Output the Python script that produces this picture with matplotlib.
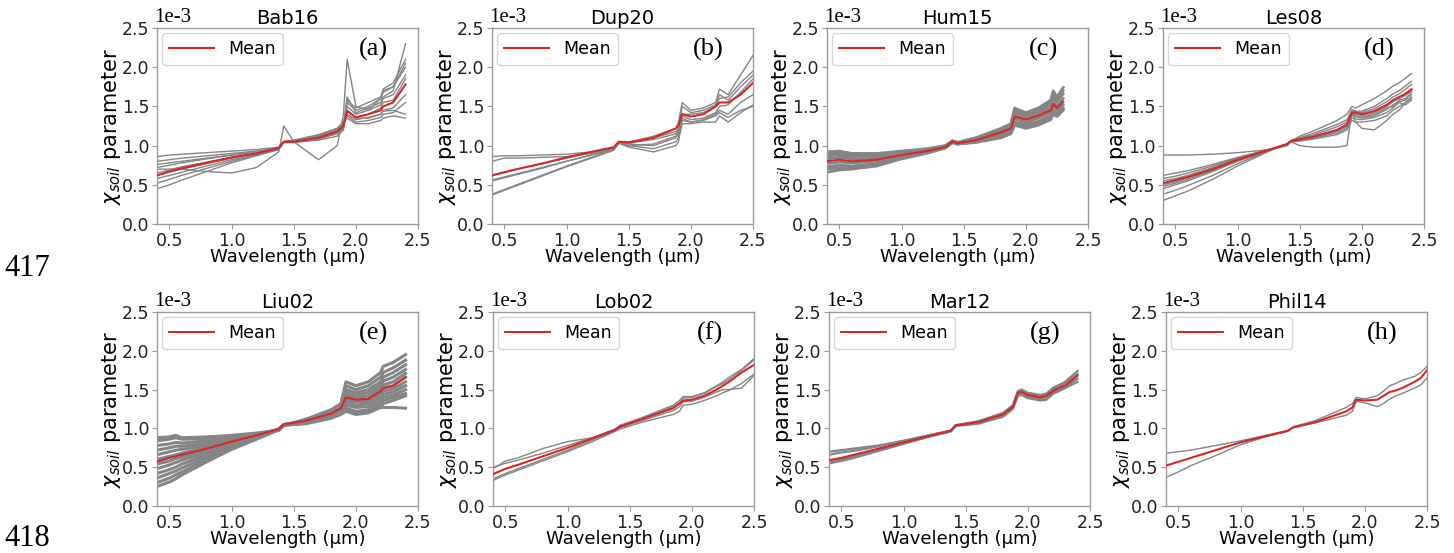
import matplotlib
matplotlib.use("Agg")
import matplotlib.pyplot as plt

# ---------------- data (values in units of 1e-3) ----------------
titles = ["Bab16", "Dup20", "Hum15", "Les08", "Liu02", "Lob02", "Mar12", "Phil14"]
tags = ["(a)", "(b)", "(c)", "(d)", "(e)", "(f)", "(g)", "(h)"]

wl_a = [0.40, 0.50, 0.60, 0.80, 1.00, 1.20, 1.38, 1.42, 1.50, 1.70, 1.85, 1.90, 1.93, 2.00, 2.10, 2.20, 2.22, 2.30, 2.40]
mean_a = [0.62, 0.67, 0.71, 0.78, 0.85, 0.90, 0.97, 1.05, 1.05, 1.10, 1.18, 1.25, 1.44, 1.36, 1.40, 1.45, 1.50, 1.55, 1.78]
gray_a = [
    [0.86, 0.88, 0.89, 0.91, 0.93, 0.95, 0.98, 1.04, 1.04, 1.07, 1.12, 1.20, 1.55, 1.45, 1.50, 1.60, 1.68, 1.75, 2.05],
    [0.80, 0.82, 0.84, 0.87, 0.90, 0.93, 0.97, 1.05, 1.05, 1.09, 1.15, 1.22, 1.50, 1.40, 1.45, 1.52, 1.60, 1.65, 1.90],
    [0.72, 0.75, 0.78, 0.83, 0.88, 0.92, 0.97, 1.05, 1.05, 1.10, 1.18, 1.26, 1.62, 1.42, 1.48, 1.55, 1.62, 1.70, 2.30],
    [0.65, 0.69, 0.73, 0.79, 0.85, 0.90, 0.96, 1.04, 1.04, 1.10, 1.19, 1.26, 1.40, 1.33, 1.36, 1.40, 1.45, 1.48, 1.65],
    [0.58, 0.62, 0.66, 0.74, 0.82, 0.88, 0.96, 1.05, 1.06, 1.12, 1.20, 1.28, 1.38, 1.30, 1.32, 1.36, 1.40, 1.42, 1.55],
    [0.52, 0.57, 0.62, 0.71, 0.80, 0.88, 0.95, 1.05, 1.06, 1.13, 1.22, 1.30, 1.45, 1.35, 1.35, 1.40, 1.44, 1.45, 1.40],
    [0.45, 0.50, 0.56, 0.67, 0.78, 0.87, 0.95, 1.05, 1.07, 1.14, 1.22, 1.30, 1.35, 1.28, 1.28, 1.32, 1.35, 1.38, 1.35],
    [0.70, 0.70, 0.70, 0.67, 0.65, 0.72, 0.92, 1.25, 1.05, 0.82, 1.00, 1.40, 2.10, 1.50, 1.45, 1.60, 1.70, 1.75, 2.00],
    [0.76, 0.78, 0.80, 0.84, 0.88, 0.92, 0.97, 1.05, 1.05, 1.08, 1.16, 1.24, 1.58, 1.48, 1.55, 1.62, 1.72, 1.80, 2.10],
    [0.62, 0.66, 0.70, 0.77, 0.84, 0.90, 0.96, 1.04, 1.04, 1.10, 1.18, 1.25, 1.45, 1.36, 1.40, 1.48, 1.55, 1.58, 1.85],
]

wl_b = [0.40, 0.50, 0.60, 0.80, 1.00, 1.20, 1.38, 1.42, 1.50, 1.70, 1.88, 1.90, 1.93, 2.00, 2.10, 2.20, 2.23, 2.30, 2.40, 2.50]
mean_b = [0.62, 0.66, 0.70, 0.77, 0.85, 0.92, 0.98, 1.05, 1.04, 1.10, 1.22, 1.26, 1.40, 1.37, 1.40, 1.50, 1.55, 1.55, 1.65, 1.80]
gray_b = [
    [0.86, 0.87, 0.87, 0.88, 0.89, 0.92, 0.97, 1.04, 1.00, 0.96, 1.05, 1.10, 1.35, 1.30, 1.33, 1.40, 1.45, 1.40, 1.55, 1.65],
    [0.80, 0.84, 0.84, 0.85, 0.86, 0.90, 0.96, 1.03, 0.98, 0.92, 1.00, 1.05, 1.28, 1.28, 1.30, 1.30, 1.38, 1.30, 1.42, 1.52],
    [0.56, 0.60, 0.64, 0.72, 0.80, 0.88, 0.95, 1.03, 1.04, 1.12, 1.22, 1.30, 1.55, 1.45, 1.48, 1.55, 1.72, 1.65, 1.90, 2.15],
    [0.55, 0.59, 0.63, 0.71, 0.80, 0.88, 0.96, 1.04, 1.05, 1.10, 1.18, 1.22, 1.40, 1.40, 1.42, 1.50, 1.60, 1.62, 1.80, 1.95],
    [0.38, 0.44, 0.50, 0.62, 0.74, 0.85, 0.95, 1.04, 1.00, 1.02, 1.12, 1.18, 1.38, 1.33, 1.35, 1.42, 1.50, 1.52, 1.68, 1.85],
    [0.37, 0.43, 0.49, 0.61, 0.73, 0.84, 0.94, 1.03, 1.03, 1.08, 1.15, 1.20, 1.50, 1.42, 1.45, 1.52, 1.65, 1.58, 1.75, 1.90],
    [0.62, 0.66, 0.70, 0.77, 0.84, 0.91, 0.97, 1.04, 1.02, 1.00, 1.10, 1.15, 1.32, 1.30, 1.32, 1.38, 1.42, 1.36, 1.45, 1.50],
]

wl_c = [0.40, 0.50, 0.60, 0.80, 1.00, 1.20, 1.35, 1.41, 1.45, 1.60, 1.80, 1.88, 1.91, 2.00, 2.10, 2.20, 2.22, 2.25, 2.30]
mean_c = [0.80, 0.82, 0.80, 0.82, 0.88, 0.93, 0.98, 1.05, 1.03, 1.07, 1.17, 1.22, 1.37, 1.33, 1.38, 1.45, 1.53, 1.48, 1.56]
gray_c = [
    [0.92, 0.93, 0.90, 0.90, 0.93, 0.96, 1.00, 1.06, 1.04, 1.10, 1.22, 1.28, 1.48, 1.42, 1.48, 1.58, 1.70, 1.62, 1.74],
    [0.90, 0.91, 0.88, 0.88, 0.92, 0.95, 0.99, 1.06, 1.04, 1.10, 1.21, 1.27, 1.46, 1.40, 1.46, 1.55, 1.66, 1.59, 1.70],
    [0.87, 0.88, 0.86, 0.87, 0.91, 0.95, 0.99, 1.06, 1.04, 1.09, 1.20, 1.25, 1.43, 1.38, 1.43, 1.52, 1.62, 1.56, 1.66],
    [0.83, 0.85, 0.83, 0.84, 0.89, 0.94, 0.99, 1.05, 1.03, 1.08, 1.18, 1.23, 1.40, 1.35, 1.40, 1.48, 1.57, 1.51, 1.60],
    [0.77, 0.79, 0.78, 0.80, 0.87, 0.92, 0.98, 1.05, 1.03, 1.06, 1.15, 1.20, 1.34, 1.30, 1.35, 1.42, 1.50, 1.45, 1.52],
    [0.73, 0.75, 0.74, 0.77, 0.85, 0.91, 0.97, 1.04, 1.02, 1.05, 1.13, 1.18, 1.30, 1.27, 1.31, 1.38, 1.45, 1.41, 1.48],
    [0.70, 0.72, 0.72, 0.76, 0.84, 0.91, 0.97, 1.04, 1.02, 1.05, 1.12, 1.17, 1.28, 1.25, 1.29, 1.36, 1.43, 1.39, 1.47],
    [0.66, 0.69, 0.70, 0.74, 0.83, 0.90, 0.97, 1.04, 1.02, 1.04, 1.10, 1.15, 1.26, 1.22, 1.26, 1.33, 1.40, 1.37, 1.45],
]

wl_d = [0.40, 0.50, 0.60, 0.80, 1.00, 1.20, 1.30, 1.40, 1.43, 1.50, 1.60, 1.80, 1.88, 1.92, 1.95, 2.00, 2.10, 2.20, 2.25, 2.30, 2.35, 2.40]
mean_d = [0.52, 0.56, 0.60, 0.70, 0.82, 0.92, 0.97, 1.02, 1.06, 1.08, 1.11, 1.20, 1.27, 1.42, 1.42, 1.40, 1.44, 1.52, 1.58, 1.62, 1.66, 1.72]
gray_d = [
    [0.88, 0.88, 0.88, 0.89, 0.91, 0.94, 0.96, 1.00, 1.05, 1.00, 0.98, 0.98, 1.00, 1.45, 1.30, 1.22, 1.20, 1.32, 1.40, 1.45, 1.55, 1.60],
    [0.62, 0.65, 0.68, 0.76, 0.85, 0.93, 0.97, 1.02, 1.06, 1.12, 1.18, 1.32, 1.40, 1.50, 1.48, 1.52, 1.60, 1.70, 1.76, 1.80, 1.86, 1.92],
    [0.58, 0.61, 0.65, 0.74, 0.84, 0.93, 0.97, 1.02, 1.06, 1.10, 1.15, 1.27, 1.33, 1.46, 1.44, 1.44, 1.50, 1.60, 1.66, 1.70, 1.76, 1.82],
    [0.55, 0.58, 0.62, 0.72, 0.83, 0.92, 0.97, 1.02, 1.06, 1.09, 1.13, 1.24, 1.30, 1.44, 1.43, 1.42, 1.47, 1.56, 1.62, 1.66, 1.72, 1.78],
    [0.50, 0.54, 0.59, 0.69, 0.81, 0.91, 0.97, 1.02, 1.06, 1.08, 1.11, 1.20, 1.26, 1.40, 1.40, 1.38, 1.42, 1.50, 1.56, 1.60, 1.64, 1.70],
    [0.48, 0.52, 0.57, 0.68, 0.81, 0.91, 0.97, 1.02, 1.05, 1.08, 1.10, 1.19, 1.25, 1.42, 1.38, 1.36, 1.40, 1.48, 1.50, 1.58, 1.60, 1.68],
    [0.45, 0.50, 0.55, 0.67, 0.80, 0.91, 0.97, 1.02, 1.05, 1.07, 1.10, 1.18, 1.24, 1.38, 1.37, 1.35, 1.38, 1.46, 1.52, 1.56, 1.58, 1.65],
    [0.38, 0.43, 0.49, 0.62, 0.77, 0.90, 0.97, 1.02, 1.05, 1.06, 1.09, 1.16, 1.22, 1.35, 1.34, 1.33, 1.36, 1.42, 1.48, 1.55, 1.52, 1.58],
    [0.30, 0.36, 0.42, 0.57, 0.74, 0.89, 0.96, 1.02, 1.05, 1.06, 1.08, 1.14, 1.20, 1.32, 1.30, 1.30, 1.32, 1.38, 1.45, 1.50, 1.55, 1.62],
]

wl_e = [0.40, 0.50, 0.55, 0.60, 0.80, 1.00, 1.20, 1.38, 1.42, 1.60, 1.80, 1.88, 1.92, 2.00, 2.10, 2.20, 2.22, 2.30, 2.40]
mean_e = [0.57, 0.62, 0.64, 0.66, 0.74, 0.83, 0.91, 0.99, 1.05, 1.10, 1.19, 1.26, 1.40, 1.37, 1.38, 1.48, 1.52, 1.55, 1.66]
gray_e = [
    [0.88, 0.89, 0.91, 0.88, 0.89, 0.91, 0.94, 0.98, 1.04, 1.12, 1.24, 1.32, 1.60, 1.55, 1.60, 1.72, 1.80, 1.85, 1.95],
    [0.84, 0.86, 0.88, 0.86, 0.87, 0.90, 0.93, 0.98, 1.04, 1.11, 1.22, 1.30, 1.55, 1.50, 1.55, 1.66, 1.72, 1.78, 1.88],
    [0.78, 0.80, 0.82, 0.81, 0.84, 0.88, 0.92, 0.98, 1.04, 1.10, 1.21, 1.28, 1.50, 1.46, 1.50, 1.60, 1.66, 1.72, 1.82],
    [0.72, 0.75, 0.77, 0.77, 0.81, 0.87, 0.92, 0.98, 1.04, 1.10, 1.20, 1.27, 1.46, 1.43, 1.46, 1.56, 1.61, 1.66, 1.76],
    [0.66, 0.70, 0.72, 0.73, 0.78, 0.85, 0.91, 0.98, 1.04, 1.10, 1.20, 1.27, 1.43, 1.40, 1.42, 1.52, 1.56, 1.60, 1.71],
    [0.60, 0.64, 0.66, 0.68, 0.76, 0.84, 0.91, 0.99, 1.05, 1.10, 1.19, 1.26, 1.40, 1.37, 1.38, 1.48, 1.52, 1.55, 1.66],
    [0.54, 0.58, 0.61, 0.63, 0.72, 0.82, 0.90, 0.99, 1.05, 1.09, 1.18, 1.25, 1.37, 1.34, 1.35, 1.44, 1.48, 1.51, 1.60],
    [0.48, 0.53, 0.56, 0.59, 0.69, 0.80, 0.89, 0.99, 1.05, 1.09, 1.17, 1.24, 1.34, 1.30, 1.32, 1.40, 1.44, 1.47, 1.55],
    [0.42, 0.47, 0.50, 0.54, 0.66, 0.78, 0.89, 0.99, 1.05, 1.08, 1.16, 1.22, 1.30, 1.27, 1.28, 1.36, 1.40, 1.43, 1.50],
    [0.36, 0.42, 0.45, 0.49, 0.63, 0.77, 0.88, 0.99, 1.05, 1.08, 1.15, 1.21, 1.26, 1.22, 1.24, 1.32, 1.36, 1.40, 1.45],
    [0.30, 0.36, 0.40, 0.44, 0.60, 0.75, 0.87, 0.99, 1.04, 1.07, 1.14, 1.20, 1.24, 1.20, 1.22, 1.28, 1.32, 1.36, 1.42],
    [0.25, 0.31, 0.35, 0.40, 0.57, 0.73, 0.86, 0.98, 1.04, 1.06, 1.13, 1.18, 1.22, 1.18, 1.20, 1.27, 1.27, 1.27, 1.26],
]

wl_f = [0.40, 0.50, 0.60, 0.80, 1.00, 1.20, 1.38, 1.42, 1.60, 1.85, 1.90, 1.93, 2.00, 2.10, 2.20, 2.25, 2.30, 2.40, 2.50]
mean_f = [0.41, 0.48, 0.53, 0.64, 0.75, 0.87, 0.98, 1.02, 1.12, 1.26, 1.32, 1.36, 1.37, 1.42, 1.50, 1.55, 1.60, 1.72, 1.82]
gray_f = [
    [0.48, 0.58, 0.62, 0.74, 0.83, 0.88, 0.99, 1.04, 1.14, 1.30, 1.36, 1.41, 1.41, 1.46, 1.55, 1.60, 1.66, 1.76, 1.90],
    [0.50, 0.55, 0.59, 0.68, 0.78, 0.88, 0.98, 1.03, 1.13, 1.28, 1.33, 1.39, 1.40, 1.45, 1.54, 1.58, 1.63, 1.75, 1.88],
    [0.33, 0.40, 0.46, 0.58, 0.70, 0.83, 0.96, 0.99, 1.08, 1.18, 1.22, 1.30, 1.31, 1.36, 1.42, 1.46, 1.49, 1.58, 1.70],
    [0.35, 0.42, 0.48, 0.60, 0.72, 0.85, 0.97, 1.01, 1.10, 1.23, 1.28, 1.34, 1.35, 1.40, 1.47, 1.50, 1.50, 1.52, 1.68],
]

wl_g = [0.40, 0.50, 0.60, 0.80, 1.00, 1.20, 1.38, 1.42, 1.60, 1.80, 1.88, 1.92, 1.95, 2.00, 2.10, 2.15, 2.20, 2.25, 2.30, 2.40]
mean_g = [0.59, 0.62, 0.66, 0.74, 0.82, 0.90, 0.97, 1.04, 1.08, 1.18, 1.28, 1.46, 1.47, 1.43, 1.40, 1.42, 1.48, 1.52, 1.55, 1.68]
gray_g = [
    [0.70, 0.72, 0.74, 0.78, 0.84, 0.91, 0.97, 1.04, 1.09, 1.20, 1.30, 1.48, 1.50, 1.46, 1.43, 1.45, 1.52, 1.56, 1.60, 1.74],
    [0.66, 0.69, 0.71, 0.77, 0.84, 0.91, 0.97, 1.04, 1.09, 1.19, 1.29, 1.47, 1.49, 1.45, 1.42, 1.44, 1.50, 1.54, 1.58, 1.70],
    [0.56, 0.60, 0.64, 0.73, 0.81, 0.90, 0.97, 1.04, 1.07, 1.17, 1.27, 1.44, 1.45, 1.41, 1.38, 1.40, 1.46, 1.50, 1.53, 1.64],
    [0.55, 0.58, 0.62, 0.71, 0.80, 0.89, 0.96, 1.03, 1.06, 1.15, 1.25, 1.42, 1.43, 1.39, 1.36, 1.37, 1.44, 1.48, 1.52, 1.60],
]

wl_h = [0.40, 0.50, 0.60, 0.80, 1.00, 1.20, 1.38, 1.42, 1.60, 1.85, 1.90, 1.93, 2.00, 2.10, 2.15, 2.20, 2.25, 2.30, 2.40, 2.45, 2.50]
mean_h = [0.52, 0.57, 0.62, 0.72, 0.82, 0.90, 0.97, 1.01, 1.08, 1.22, 1.27, 1.37, 1.36, 1.37, 1.42, 1.47, 1.49, 1.52, 1.60, 1.65, 1.75]
gray_h = [
    [0.68, 0.70, 0.72, 0.78, 0.84, 0.91, 0.97, 1.02, 1.10, 1.27, 1.32, 1.40, 1.38, 1.42, 1.48, 1.55, 1.58, 1.62, 1.67, 1.72, 1.80],
    [0.37, 0.44, 0.52, 0.65, 0.79, 0.89, 0.96, 1.01, 1.07, 1.17, 1.22, 1.35, 1.33, 1.28, 1.32, 1.38, 1.42, 1.45, 1.52, 1.56, 1.65],
]

wls = [wl_a, wl_b, wl_c, wl_d, wl_e, wl_f, wl_g, wl_h]
means = [mean_a, mean_b, mean_c, mean_d, mean_e, mean_f, mean_g, mean_h]
grays = [gray_a, gray_b, gray_c, gray_d, gray_e, gray_f, gray_g, gray_h]
gray_lw = [1.0, 1.0, 2.0, 1.0, 2.2, 1.0, 1.6, 1.0]

x_ticks = [0.5, 1.0, 1.5, 2.0, 2.5]
y_ticks = [0.0, 0.5, 1.0, 1.5, 2.0, 2.5]

# ---------------- figure ----------------
W, H = 1454, 553
fig = plt.figure(figsize=(W / 100, H / 100), dpi=100)

lefts = [[157, 492, 827, 1163], [157, 493, 829, 1166]]
tops = [28, 312]
heights = [196, 194]
aw = 261

serif = ["Liberation Serif", "DejaVu Serif"]
spine_col = "#9a9a9a"

for i in range(8):
    r, c = divmod(i, 4)
    l = lefts[r][c]
    t = tops[r]
    h = heights[r]
    ax = fig.add_axes([l / W, 1 - (t + h) / H, aw / W, h / H])
    for g in grays[i]:
        ax.plot(wls[i], g, color="#858585", lw=gray_lw[i], zorder=2)
    ax.plot(wls[i], means[i], color="#d62728", lw=1.5, label="Mean", zorder=3)
    ax.set_xlim(0.4, 2.5)
    ax.set_ylim(0, 2.5)
    ax.set_xticks(x_ticks)
    ax.set_yticks(y_ticks)
    ax.tick_params(labelsize=12.5, colors="#222222", length=3.5, pad=2)
    ax.tick_params(axis="both", color=spine_col)
    for s in ax.spines.values():
        s.set_color(spine_col)
        s.set_linewidth(1.0)
    ax.set_title(titles[i], fontsize=14, pad=3)
    ax.set_xlabel("Wavelength (μm)", fontsize=13, labelpad=-1)
    ax.set_ylabel(r"$\chi_{soil}$ parameter", fontsize=15, labelpad=-1)
    ax.text(-0.01, 1.005, "1e-3", transform=ax.transAxes, ha="left", va="bottom",
            fontsize=15, family=serif)
    ax.text(0.83, 0.888, tags[i], transform=ax.transAxes, ha="center", va="center",
            fontsize=19, family=serif)
    leg = ax.legend(loc="upper left", fontsize=12.5, handlelength=2.6,
                    borderaxespad=0.3, fancybox=True, framealpha=0.8)
    leg.get_frame().set_edgecolor("#cccccc")

fig.text(4 / W, 1 - 269 / H, "417", fontsize=22, family=serif, va="center", ha="left")
fig.text(4 / W, 1 - 539 / H, "418", fontsize=22, family=serif, va="center", ha="left")

fig.savefig("out.png", dpi=100)
